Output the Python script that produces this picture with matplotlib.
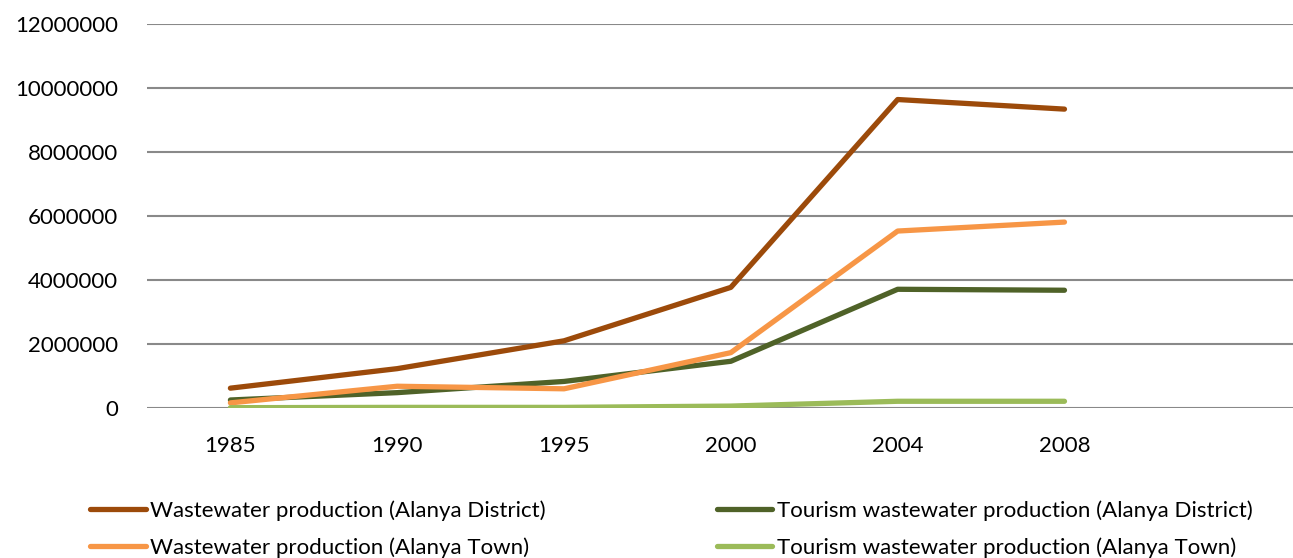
import matplotlib.pyplot as plt
import numpy as np

plt.rcParams['font.family'] = ['Lato', 'DejaVu Sans']

years = ['1985', '1990', '1995', '2000', '2004', '2008']
ww_district = [620000, 1230000, 2100000, 3770000, 9640000, 9340000]
tour_district = [250000, 480000, 830000, 1460000, 3710000, 3680000]
ww_town = [160000, 680000, 600000, 1730000, 5530000, 5810000]
tour_town = [10000, 20000, 20000, 60000, 210000, 210000]

labels = ['Wastewater production (Alanya District)',
          'Tourism wastewater production (Alanya District)',
          'Wastewater production (Alanya Town)',
          'Tourism wastewater production (Alanya Town)']
colors = ['#9C4A0A', '#4F6228', '#F79646', '#9BBB59']

fig = plt.figure(figsize=(12.93, 5.58), dpi=100)
ax = fig.add_axes([147 / 1293, 1 - 408 / 558, 1 - 147 / 1293, (408 - 24) / 558])

x = np.arange(len(years))
lines = []
for vals, lab, c in zip([ww_district, tour_district, ww_town, tour_town], labels, colors):
    ln, = ax.plot(x, vals, color=c, lw=3.8, label=lab, solid_capstyle='round', solid_joinstyle='round')
    lines.append(ln)

ax.set_ylim(0, 12000000)
ax.set_yticks(np.arange(0, 12000001, 2000000))
ax.set_yticklabels([str(v) for v in range(0, 12000001, 2000000)])
ax.set_xlim(-0.5, 6.37)
ax.set_xticks(x)
ax.set_xticklabels(years)
ax.tick_params(axis='both', length=0, labelsize=16, colors='black')
ax.tick_params(axis='y', pad=21)
ax.tick_params(axis='x', pad=20)
ax.grid(axis='y', color='#898989', lw=1.5)
ax.set_axisbelow(True)
for s in ax.spines.values():
    s.set_visible(False)

order = [0, 2, 1, 3]
fig.legend([lines[i] for i in order], [labels[i] for i in order], ncol=2,
           loc='upper left', bbox_to_anchor=(90 / 1293, 1 - 500 / 558),
           frameon=False, fontsize=16, handlelength=2.5, handletextpad=0.2,
           columnspacing=7.7, labelspacing=0.75, borderaxespad=0, borderpad=0)

fig.savefig('out.png', dpi=100)
